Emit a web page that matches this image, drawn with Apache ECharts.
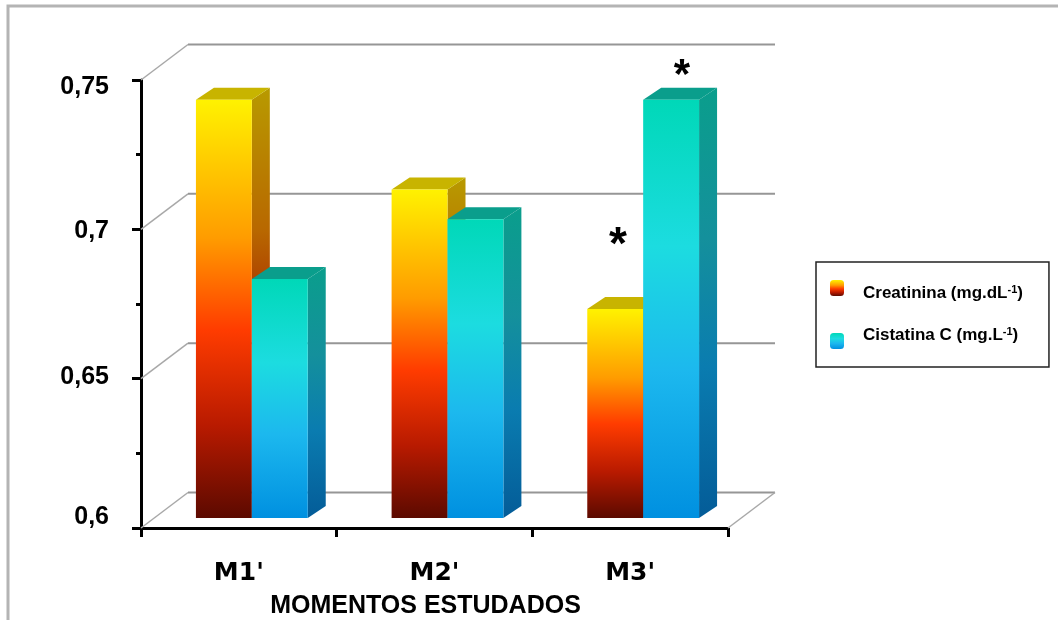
<!DOCTYPE html>
<html>
<head>
<meta charset="utf-8">
<title>Creatinina e Cistatina C</title>
<script src="https://cdn.jsdelivr.net/npm/echarts@6/dist/echarts.min.js"></script>
<style>
  html, body { margin: 0; padding: 0; background: #fff; }
  #chart { width: 1058px; height: 620px; }
</style>
</head>
<body>
<div id="chart"></div>
<script>
const categories = ["M1'", "M2'", "M3'"]
const creatinina = [0.74, 0.71, 0.67]
const cistatina = [0.68, 0.70, 0.74]
const wallValues = [0.6, 0.65, 0.7, 0.75]

// 3d look: wall depth, where the bars stand on the floor, bar depth
const wall = { dx: 47, dy: -35.5 }
const floor = { dx: 13, dy: -10 }
const depth = { dx: 18, dy: -12 }
const barShare = 0.2857

const grad = (stops) => new echarts.graphic.LinearGradient(0, 0, 0, 1,
  stops.map((c) => ({ offset: c[0], color: c[1] })))

const creatFront = [[0, '#fff200'], [0.33, '#ff9c00'], [0.55, '#ff3c00'], [0.78, '#b81a00'], [1, '#5c0a00']]
const creatSide = [[0, '#b89a00'], [0.33, '#b86800'], [0.55, '#a82800'], [0.78, '#801000'], [1, '#480800']]
const cistFront = [[0, '#00d8b8'], [0.35, '#1cdce0'], [0.65, '#1cb8ee'], [1, '#0090e0']]
const cistSide = [[0, '#0a9e8c'], [0.35, '#14909c'], [0.65, '#0a7cb0'], [1, '#045c98']]

const barItem = (side, front, sideCol, topCol) => (params, api) => {
  const i = api.value(0)
  const w = api.size([1, 0])[0] * barShare
  const top = api.coord([i, api.value(1)])
  const base = api.coord([i, 0.6])
  const x = top[0] + floor.dx + (side === 0 ? -w : 0)
  const y0 = top[1] + floor.dy
  const y1 = base[1] + floor.dy
  const d = depth
  return {
    type: 'group',
    children: [
      { type: 'polygon', shape: { points: [[x + w, y0], [x + w + d.dx, y0 + d.dy], [x + w + d.dx, y1 + d.dy], [x + w, y1]] }, style: { fill: grad(sideCol) } },
      { type: 'polygon', shape: { points: [[x, y0], [x + d.dx, y0 + d.dy], [x + w + d.dx, y0 + d.dy], [x + w, y0]] }, style: { fill: topCol } },
      { type: 'rect', shape: { x: x, y: y0, width: w, height: y1 - y0 }, style: { fill: grad(front) } }
    ]
  }
}

const wallItem = (params, api) => {
  const r = params.coordSys
  const y = api.coord([0, api.value(0)])[1]
  const left = r.x
  const right = r.x + r.width
  const lines = [
    { type: 'line', shape: { x1: left, y1: y, x2: left + wall.dx, y2: y + wall.dy }, style: { stroke: '#a8a8a8', lineWidth: 1.5 } },
    { type: 'line', shape: { x1: left + wall.dx, y1: y + wall.dy, x2: right + wall.dx, y2: y + wall.dy }, style: { stroke: '#969696', lineWidth: 2 } }
  ]
  if (api.value(0) === 0.6) {
    lines.push({
      type: 'line',
      shape: { x1: right, y1: y, x2: right + wall.dx, y2: y + wall.dy },
      style: { stroke: '#a8a8a8', lineWidth: 1.5 }
    })
  }
  return { type: 'group', children: lines }
}

// tick labels are not quite level with their ticks in the original
const tickText = { fontFamily: 'Liberation Sans', fontWeight: 'bold', fontSize: 25, color: '#000' }

const chart = echarts.init(document.getElementById('chart'), null, { renderer: 'canvas' })
chart.setOption({
  animation: false,
  backgroundColor: '#fff',
  textStyle: { fontFamily: 'Liberation Sans' },
  grid: { left: 141, right: 330, top: 80, bottom: 92, outerBoundsMode: 'none' },
  graphic: [
    { type: 'rect', z: -1, shape: { x: 8, y: 6, width: 1100, height: 700 }, style: { fill: '#fff', stroke: '#b4b4b4', lineWidth: 3 } },
    { type: 'text', z: 20, x: 618, y: 246, style: { text: '*', fontFamily: 'Liberation Sans', fontWeight: 'bold', fontSize: 46, fill: '#000', align: 'center', verticalAlign: 'middle' } },
    { type: 'text', z: 20, x: 682, y: 76, style: { text: '*', fontFamily: 'Liberation Sans', fontWeight: 'bold', fontSize: 42, fill: '#000', align: 'center', verticalAlign: 'middle' } }
  ],
  legend: {
    left: 816,
    top: 262,
    orient: 'vertical',
    data: [
      { name: 'Creatinina', textStyle: { padding: [10, 0, 0, 14] } },
      { name: 'Cistatina', textStyle: { padding: [0, 0, 12, 14] } }
    ],
    itemWidth: 14,
    itemHeight: 16,
    itemGap: 25,
    padding: [18, 26, 18, 14],
    borderColor: '#222',
    borderWidth: 1.5,
    formatter: (n) => n === 'Creatinina' ? '{a|Creatinina (mg.dL}{s|-1}{a|)}' : '{a|Cistatina C (mg.L}{s|-1}{a|)}',
    textStyle: {
      rich: {
        a: { fontFamily: 'Liberation Sans', fontWeight: 'bold', fontSize: 17, color: '#000' },
        s: { fontFamily: 'Liberation Sans', fontWeight: 'bold', fontSize: 11, color: '#000', verticalAlign: 'top', padding: [0, 0, 6, 0] }
      }
    }
  },
  xAxis: {
    type: 'category',
    data: categories,
    name: 'MOMENTOS ESTUDADOS',
    nameLocation: 'middle',
    nameGap: 66,
    nameTextStyle: { fontFamily: 'Liberation Sans', fontWeight: 'bold', fontSize: 25, color: '#000', padding: [0, 18, 0, 0] },
    axisLine: { lineStyle: { color: '#000', width: 3 } },
    axisTick: { show: true, length: 9, lineStyle: { color: '#000', width: 3 } },
    axisLabel: { margin: 33, fontFamily: 'DejaVu Sans', fontWeight: 'bold', fontSize: 25, color: '#000' }
  },
  yAxis: {
    type: 'value',
    min: 0.6,
    max: 0.75,
    interval: 0.05,
    axisLine: { show: true, lineStyle: { color: '#000', width: 3 } },
    axisTick: { show: true, length: 9, lineStyle: { color: '#000', width: 3 } },
    minorTick: { show: true, splitNumber: 2, length: 5, lineStyle: { color: '#000', width: 3 } },
    splitLine: { show: false },
    axisLabel: {
      margin: 32,
      formatter: (v) => {
        const key = Math.round(v * 100)
        return '{t' + key + '|' + String(+v.toFixed(2)).replace('.', ',') + '}'
      },
      rich: {
        t75: { ...tickText, padding: [14, 0, 0, 0] },
        t70: { ...tickText, padding: [4, 0, 0, 0] },
        t65: { ...tickText, padding: [0, 0, 4, 0] },
        t60: { ...tickText, padding: [0, 0, 22, 0] }
      }
    }
  },
  series: [
    { type: 'custom', name: 'wall', silent: true, z: 1, coordinateSystem: 'cartesian2d', data: wallValues.map(v => [v]), encode: { y: 0 }, renderItem: wallItem },
    {
      type: 'custom', name: 'Creatinina', z: 2,
      itemStyle: { color: grad(creatFront) },
      data: creatinina.map((v, i) => [i, v]),
      renderItem: barItem(0, creatFront, creatSide, '#c8b400')
    },
    {
      type: 'custom', name: 'Cistatina', z: 3,
      itemStyle: { color: grad(cistFront) },
      data: cistatina.map((v, i) => [i, v]),
      renderItem: barItem(1, cistFront, cistSide, '#0a9e8c')
    }
  ]
})
</script>
</body>
</html>
